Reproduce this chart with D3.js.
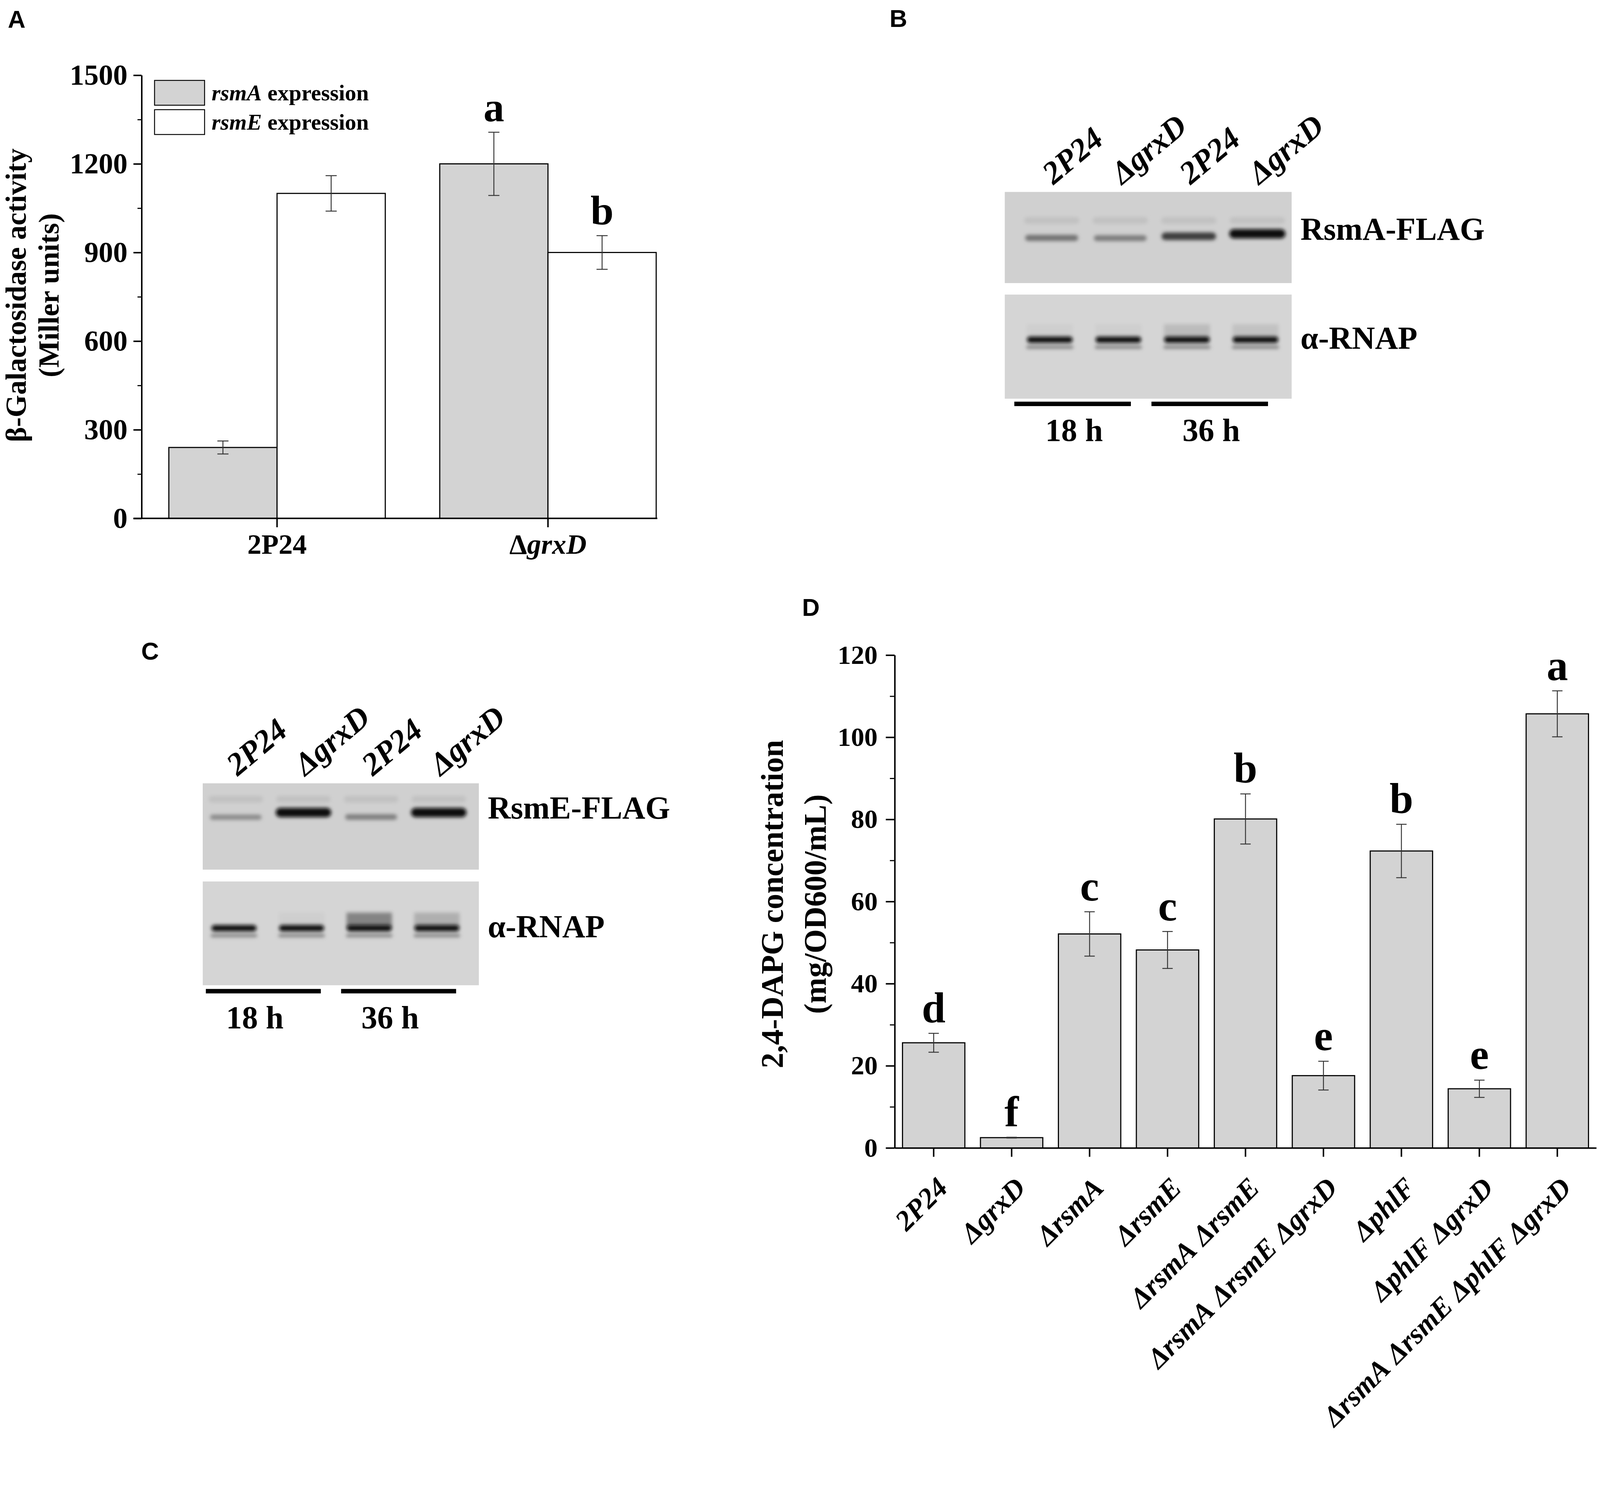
<!DOCTYPE html>
<html>
<head>
<meta charset="utf-8">
<script src="https://cdn.jsdelivr.net/npm/d3@7"></script>
<style>
html,body{margin:0;padding:0;background:#fff;overflow:hidden}
svg text{font-family:"Liberation Serif","Times New Roman",serif;font-weight:bold;fill:#000}
svg text.panel{font-family:"Liberation Sans",Arial,sans-serif}
</style>
</head>
<body>
<script>
// ---- panel A : beta-galactosidase
var strainsA = ["2P24", "ΔgrxD"];
var seriesA = ["rsmA", "rsmE"];
var rsmAValues = [240, 1200];
var rsmAErrors = [22, 107];
var rsmEValues = [1100, 900];
var rsmEErrors = [60, 57];
var rsmALetters = ["", "a"];
var rsmELetters = ["", "b"];
var ticksA = [0, 300, 600, 900, 1200, 1500];
var minorTicksA = [150, 450, 750, 1050, 1350];

// ---- panel D : 2,4-DAPG
var strainsD = ["2P24", "ΔgrxD", "ΔrsmA", "ΔrsmE", "ΔrsmA ΔrsmE", "ΔrsmA ΔrsmE ΔgrxD",
                "ΔphlF", "ΔphlF ΔgrxD", "ΔrsmA ΔrsmE ΔphlF ΔgrxD"];
var dapgValues = [25.6, 2.5, 52.1, 48.2, 80.1, 17.6, 72.3, 14.4, 105.7];
var dapgErrors = [2.3, 0.1, 5.4, 4.5, 6.1, 3.5, 6.5, 2.1, 5.6];
var dapgLetters = ["d", "f", "c", "c", "b", "e", "b", "e", "a"];
var ticksD = [0, 20, 40, 60, 80, 100, 120];
var minorTicksD = [10, 30, 50, 70, 90, 110];

// ---- panels B and C : western blots (band strength 0..1 per lane)
var lanes = ["2P24", "ΔgrxD", "2P24", "ΔgrxD"];
var times = ["18 h", "36 h"];
var rsmAFlagBands = [0.45, 0.4, 0.72, 1.0];
var rnapBandsB = [1, 1, 1, 1];
var rnapSmearB = [0.05, 0.05, 0.2, 0.15];
var rsmEFlagBands = [0.32, 1.0, 0.38, 1.0];
var rnapBandsC = [1, 1, 1, 1];
var rnapSmearC = [0, 0.05, 0.65, 0.3];

var W = 4317, H = 3841;
var svg = d3.select("body").append("svg")
    .attr("viewBox", "0 0 " + W + " " + H)
    .attr("preserveAspectRatio", "xMinYMin meet")
    .style("display", "block")
    .style("width", "100vw")
    .style("height", "100vh");
svg.append("rect").attr("width", W).attr("height", H).attr("fill", "#fff");

var defs = svg.append("defs");
defs.append("filter").attr("id", "blur")
    .attr("x", "-30%").attr("y", "-200%").attr("width", "160%").attr("height", "500%")
    .append("feGaussianBlur").attr("stdDeviation", 5);

var BAR_FILL = "#d3d3d3";

// writes a strain name, gene names in italics
var writeStrain = function(sel, label, italicAll)
{
    label.split(" ").forEach(function(tok, i){
        var pre = i > 0 ? " " : "";
        if (tok.charAt(0) == "Δ") {
            sel.append("tspan").text(pre + "Δ").style("font-style", italicAll ? "italic" : "normal");
            sel.append("tspan").text(tok.slice(1)).style("font-style", "italic");
        } else {
            sel.append("tspan").text(pre + tok).style("font-style", italicAll ? "italic" : "normal");
        }
    });
}

var panelLetter = function(t, x, y)
{
    svg.append("text").attr("class", "panel")
        .attr("x", x).attr("y", y)
        .attr("font-size", 66)
        .text(t);
}

var styleAxis = function(ax, size, width)
{
    ax.attr("font-family", null).attr("font-size", size);
    ax.selectAll(".tick line").attr("stroke-width", width);
    ax.select(".domain").attr("stroke-width", width);
}

var errorBar = function(g, cx, y0, y1, cap)
{
    g.append("line").attr("x1", cx).attr("x2", cx).attr("y1", y0).attr("y2", y1)
        .attr("stroke", "#333").attr("stroke-width", 2.5);
    [y0, y1].forEach(function(yy){
        g.append("line").attr("x1", cx - cap/2).attr("x2", cx + cap/2)
            .attr("y1", yy).attr("y2", yy)
            .attr("stroke", "#333").attr("stroke-width", 2.5);
    });
}

// ================= panel A
var drawPanelA = function()
{
    var g = svg.append("g");
    var y = d3.scaleLinear().domain([0, 1500]).range([1399, 203]);
    var x = d3.scaleBand().domain(strainsA).range([382, 1844]);
    var xs = d3.scaleBand().domain(seriesA).range([0, 584]);
    var off = (x.bandwidth() - 584) / 2;

    var rows = [];
    strainsA.forEach(function(s, i){
        rows.push({strain: s, series: "rsmA", v: rsmAValues[i], e: rsmAErrors[i], letter: rsmALetters[i], fill: BAR_FILL});
        rows.push({strain: s, series: "rsmE", v: rsmEValues[i], e: rsmEErrors[i], letter: rsmELetters[i], fill: "#fff"});
    });

    g.selectAll("rect.bar").data(rows).enter().append("rect")
        .attr("class", "bar")
        .attr("x", function(d){ return x(d.strain) + off + xs(d.series); })
        .attr("y", function(d){ return y(d.v); })
        .attr("width", xs.bandwidth())
        .attr("height", function(d){ return y(0) - y(d.v); })
        .attr("fill", function(d){ return d.fill; })
        .attr("stroke", "#000").attr("stroke-width", 3);

    rows.forEach(function(d){
        var cx = x(d.strain) + off + xs(d.series) + xs.bandwidth()/2;
        errorBar(g, cx, y(d.v + d.e), y(d.v - d.e), 30);
        if (d.letter) {
            g.append("text").attr("x", cx).attr("y", y(d.v + d.e) - 30)
                .attr("text-anchor", "middle").attr("font-size", 112).text(d.letter);
        }
    });

    // axes
    var ya = g.append("g").attr("transform", "translate(382,0)")
        .call(d3.axisLeft(y).tickValues(ticksA).tickFormat(d3.format("d"))
            .tickSize(22).tickSizeOuter(0).tickPadding(16));
    styleAxis(ya, 78, 4);
    var ym = g.append("g").attr("transform", "translate(382,0)")
        .call(d3.axisLeft(y).tickValues(minorTicksA).tickSize(11).tickFormat(""));
    ym.select(".domain").remove();
    ym.selectAll(".tick line").attr("stroke-width", 3);

    var xa = g.append("g").attr("transform", "translate(0,1399)")
        .call(d3.axisBottom(x).tickSize(24).tickSizeOuter(0).tickFormat(""));
    xa.select(".domain").remove();
    xa.selectAll(".tick line").attr("stroke-width", 4);
    var last = strainsA[strainsA.length - 1];
    g.append("line").attr("x1", 382 - 22)
        .attr("x2", x(last) + off + xs.range()[1] + 3)
        .attr("y1", 1399).attr("y2", 1399)
        .attr("stroke", "#000").attr("stroke-width", 4);

    strainsA.forEach(function(s){
        var t = g.append("text").attr("x", x(s) + x.bandwidth()/2).attr("y", 1494)
            .attr("text-anchor", "middle").attr("font-size", 76);
        writeStrain(t, s, false);
    });

    // y title
    var tt = g.append("g").attr("transform", "translate(0,797) rotate(-90)");
    tt.append("text").attr("x", 0).attr("y", 70).attr("text-anchor", "middle")
        .attr("font-size", 78).text("β-Galactosidase activity");
    tt.append("text").attr("x", 0).attr("y", 158).attr("text-anchor", "middle")
        .attr("font-size", 78).text("(Miller units)");

    // legend
    var lg = g.append("g");
    seriesA.forEach(function(s, i){
        var yy = 217 + i * 79;
        lg.append("rect").attr("x", 417).attr("y", yy).attr("width", 135).attr("height", 67)
            .attr("fill", i == 0 ? BAR_FILL : "#fff").attr("stroke", "#000").attr("stroke-width", 2.5);
        var t = lg.append("text").attr("x", 571).attr("y", yy + 54).attr("font-size", 61);
        t.append("tspan").style("font-style", "italic").text(s);
        t.append("tspan").text(" expression");
    });
}

// ================= panel D
var drawPanelD = function()
{
    var g = svg.append("g");
    var y = d3.scaleLinear().domain([0, 120]).range([3098, 1768]);
    var x = d3.scaleBand().domain(strainsD).range([2414, 4307]).paddingInner(0.2).paddingOuter(0.1);

    var rows = strainsD.map(function(s, i){
        return {strain: s, v: dapgValues[i], e: dapgErrors[i], letter: dapgLetters[i]};
    });

    g.selectAll("rect.bar").data(rows).enter().append("rect")
        .attr("class", "bar")
        .attr("x", function(d){ return x(d.strain); })
        .attr("y", function(d){ return y(d.v); })
        .attr("width", x.bandwidth())
        .attr("height", function(d){ return y(0) - y(d.v); })
        .attr("fill", BAR_FILL)
        .attr("stroke", "#000").attr("stroke-width", 3);

    rows.forEach(function(d){
        var cx = x(d.strain) + x.bandwidth()/2;
        errorBar(g, cx, y(d.v + d.e), y(d.v - d.e), 28);
        g.append("text").attr("x", cx).attr("y", y(d.v + d.e) - 30)
            .attr("text-anchor", "middle").attr("font-size", 115).text(d.letter);
    });

    var ya = g.append("g").attr("transform", "translate(2414,0)")
        .call(d3.axisLeft(y).tickValues(ticksD).tickFormat(d3.format("d"))
            .tickSize(24).tickSizeOuter(0).tickPadding(22));
    styleAxis(ya, 72, 4);
    var ym = g.append("g").attr("transform", "translate(2414,0)")
        .call(d3.axisLeft(y).tickValues(minorTicksD).tickSize(13).tickFormat(""));
    ym.select(".domain").remove();
    ym.selectAll(".tick line").attr("stroke-width", 3);

    var xa = g.append("g").attr("transform", "translate(0,3098)")
        .call(d3.axisBottom(x).tickSize(24).tickSizeOuter(0).tickFormat(""));
    styleAxis(xa, 72, 4);

    strainsD.forEach(function(s){
        var px = x(s) + x.bandwidth()/2 + 42;
        var t = g.append("text").attr("text-anchor", "end").attr("font-size", 77)
            .attr("transform", "translate(" + px + ",3210) rotate(-45)");
        writeStrain(t, s, true);
    });

    var tt = g.append("g").attr("transform", "translate(0,2440) rotate(-90)");
    tt.append("text").attr("x", 0).attr("y", 2112).attr("text-anchor", "middle")
        .attr("font-size", 84).text("2,4-DAPG concentration");
    tt.append("text").attr("x", 0).attr("y", 2228).attr("text-anchor", "middle")
        .attr("font-size", 84).text("(mg/OD600/mL)");
}

// ================= blots
var drawBand = function(g, cx, w, cy, k, thin)
{
    var th = thin ? thin : 9 + 16 * k;
    g.append("rect")
        .attr("x", cx - w/2).attr("y", cy - th/2)
        .attr("width", w).attr("height", th).attr("rx", th/2)
        .attr("fill", d3.interpolateRgb("#c8c8c8", "#080808")(Math.min(1, k)))
        .attr("filter", "url(#blur)");
}

var drawBlot = function(o)
{
    var g = svg.append("g");
    var lane = d3.scaleBand().domain(d3.range(lanes.length))
        .range([o.x0, o.x1]).paddingInner(0.3).paddingOuter(0.15);
    var bw = lane.bandwidth();
    var cx = function(i){ return lane(i) + bw/2; };

    // top membrane
    g.append("rect").attr("x", o.left).attr("y", o.top[0]).attr("width", o.right - o.left)
        .attr("height", o.top[1] - o.top[0]).attr("fill", "#d0d0d0");
    o.flag.forEach(function(k, i){
        drawBand(g, cx(i) + 5, bw * 1.15, o.flagY - 50, 0.035, 18);
        drawBand(g, cx(i) + 5, bw * (1.05 + 0.12 * k), o.flagY - 14 * k * k, k);
    });

    // bottom membrane
    g.append("rect").attr("x", o.left).attr("y", o.bot[0]).attr("width", o.right - o.left)
        .attr("height", o.bot[1] - o.bot[0]).attr("fill", "#d5d5d5");
    o.rnap.forEach(function(k, i){
        var s = o.smear[i];
        if (s > 0) {
            g.append("rect").attr("x", cx(i) - bw*0.48).attr("y", o.rnapY - 42)
                .attr("width", bw * 0.96).attr("height", 40)
                .attr("fill", "#3a3a3a").attr("opacity", s * 0.8)
                .attr("filter", "url(#blur)");
        }
        drawBand(g, cx(i), bw * 0.98, o.rnapY + 20, 0.4, 8);
        drawBand(g, cx(i), bw * 0.95, o.rnapY, k, 17);
    });

    // lane labels
    lanes.forEach(function(s, i){
        var t = g.append("text").attr("font-size", 86)
            .attr("transform", "translate(" + (cx(i) + 10) + "," + o.labelY + ") rotate(-40)");
        writeStrain(t, s, true);
    });

    g.append("text").attr("x", o.right + 24).attr("y", o.flagY + 2)
        .attr("font-size", 86).text(o.flagName);
    g.append("text").attr("x", o.right + 24).attr("y", o.rnapY + 24)
        .attr("font-size", 86).text("α-RNAP");

    // time bars
    times.forEach(function(t, j){
        var a = lane(2*j) + o.barShift, b = lane(2*j + 1) + bw + o.barShift;
        g.append("rect").attr("x", a).attr("y", o.barY - 6).attr("width", b - a).attr("height", 12)
            .attr("fill", "#000");
        g.append("text").attr("x", (a + b)/2 + o.timeShift).attr("y", o.barY + 100)
            .attr("text-anchor", "middle").attr("font-size", 86).text(t);
    });
}

drawPanelA();
drawPanelD();

drawBlot({x0: 2740, x1: 3480, left: 2711, right: 3485, top: [518, 764], bot: [795, 1076],
          flag: rsmAFlagBands, flagY: 645, flagName: "RsmA-FLAG",
          rnap: rnapBandsB, smear: rnapSmearB, rnapY: 917,
          labelY: 500, barY: 1090, barShift: -31, timeShift: 4});
drawBlot({x0: 540, x1: 1270, left: 547, right: 1292, top: [2114, 2347], bot: [2379, 2659],
          flag: rsmEFlagBands, flagY: 2207, flagName: "RsmE-FLAG",
          rnap: rnapBandsC, smear: rnapSmearC, rnapY: 2505,
          labelY: 2096, barY: 2675, barShift: -12, timeShift: -23});

panelLetter("A", 21, 75);
panelLetter("B", 2400, 73);
panelLetter("C", 381, 1780);
panelLetter("D", 2164, 1662);
</script>
</body>
</html>
